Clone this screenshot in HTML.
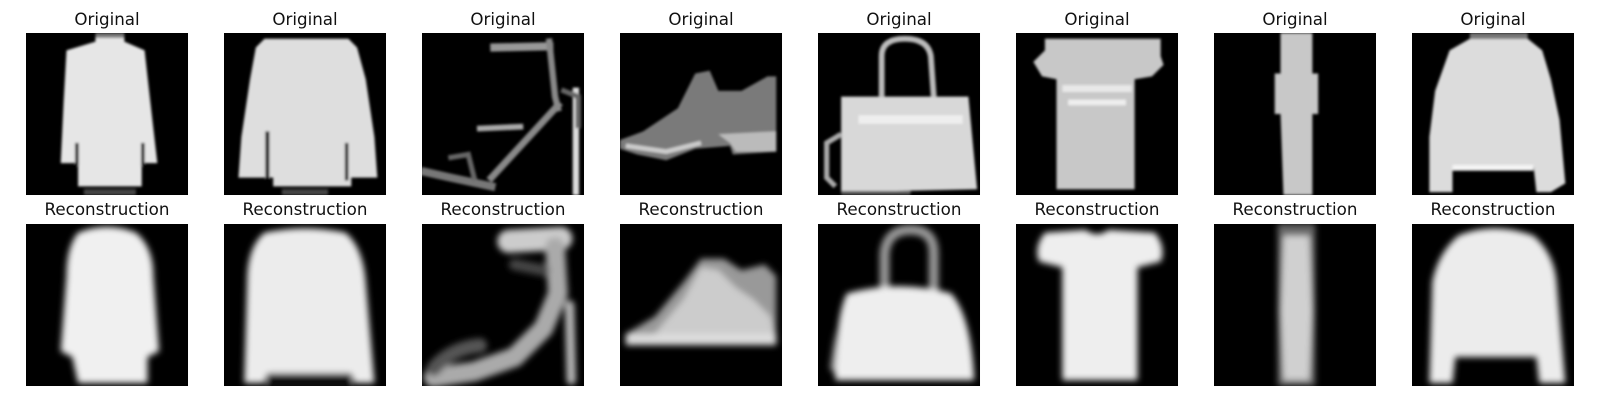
<!DOCTYPE html>
<html><head><meta charset="utf-8"><style>
html,body{margin:0;padding:0;background:#fff;}
svg{display:block;}
text{font-family:"DejaVu Sans","Liberation Sans",sans-serif;font-size:16.7px;fill:#111;}
</style></head><body>
<svg width="1600" height="400" viewBox="0 0 1600 400">
<defs>
<filter id="bl" x="-20%" y="-20%" width="140%" height="140%"><feGaussianBlur stdDeviation="0.55"/></filter>
<filter id="bs" x="-20%" y="-20%" width="140%" height="140%"><feGaussianBlur stdDeviation="0.25"/></filter>
<clipPath id="cp"><rect width="28" height="28"/></clipPath>
</defs>

<g text-anchor="middle">
<text x="107" y="25">Original</text>
<text x="305" y="25">Original</text>
<text x="503" y="25">Original</text>
<text x="701" y="25">Original</text>
<text x="899" y="25">Original</text>
<text x="1097" y="25">Original</text>
<text x="1295" y="25">Original</text>
<text x="1493" y="25">Original</text>
<text x="107" y="215">Reconstruction</text>
<text x="305" y="215">Reconstruction</text>
<text x="503" y="215">Reconstruction</text>
<text x="701" y="215">Reconstruction</text>
<text x="899" y="215">Reconstruction</text>
<text x="1097" y="215">Reconstruction</text>
<text x="1295" y="215">Reconstruction</text>
<text x="1493" y="215">Reconstruction</text>
</g>

<!-- 1 shirt -->
<g transform="translate(26,33) scale(5.786)">
<rect width="28" height="28" fill="#000"/>
<g clip-path="url(#cp)"><g filter="url(#bs)">
<polygon fill="#e6e6e6" points="12,0.8 17,0.8 17,1.5 20.5,3 21.5,12 22.7,22.5 20,22.5 20,26.5 9,26.5 9,22.5 6,22.5 6.5,12 7,3 12,1.5"/>
<polyline points="8.8,19 8.8,23" stroke="#000" stroke-width="0.6" fill="none"/>
<polyline points="20.2,19 20.2,23" stroke="#000" stroke-width="0.6" fill="none"/>
<rect x="10" y="27" width="9" height="1" fill="#444"/>
<rect x="12" y="0" width="5" height="0.8" fill="#777"/>
</g></g></g>
<g transform="translate(26,224) scale(5.786)">
<rect width="28" height="28" fill="#000"/>
<g clip-path="url(#cp)"><g filter="url(#bl)">
<path fill="#f0f0f0" d="M9,1.5 Q14,-0.5 19,1.5 Q22,4 22,9 L23,22 L21,23 L21,27.5 L9,27.5 L8,23 L6,22 L7,9 Q7,4 9,1.5Z"/>
</g></g></g>

<!-- 2 pullover -->
<g transform="translate(224,33) scale(5.786)">
<rect width="28" height="28" fill="#000"/>
<g clip-path="url(#cp)"><g filter="url(#bs)">
<polygon fill="#dedede" points="7,1 21.5,1 23,2.5 24.5,8 26,18 26.5,25 22,25 22,26.5 8.5,26.5 8.5,25 2.5,25 3,18 4.5,8 5.5,2.5"/>
<polyline points="7.5,17 7.5,25.5" stroke="#000" stroke-width="0.7" fill="none"/>
<polyline points="21.2,19 21.2,25.5" stroke="#000" stroke-width="0.6" fill="none"/>
<rect x="10" y="27" width="8" height="1" fill="#444"/>
</g></g></g>
<g transform="translate(224,224) scale(5.786)">
<rect width="28" height="28" fill="#000"/>
<g clip-path="url(#cp)"><g filter="url(#bl)">
<path fill="#ececec" d="M7,1.5 Q14,0 21,1.5 Q24,4 24.5,10 L26,27.5 L22.5,27.5 L22,26 L7.5,26 L7,27.5 L3.5,27.5 L4,10 Q4,4 7,1.5Z"/>
<rect x="7.5" y="25.8" width="14.5" height="3" fill="#111"/>
</g></g></g>

<!-- 3 sandal -->
<g transform="translate(422,33) scale(5.786)">
<rect width="28" height="28" fill="#000"/>
<g clip-path="url(#cp)"><g filter="url(#bs)" fill="none" stroke-linecap="square">
<polyline points="12.5,2.5 22,2.3" stroke="#999" stroke-width="1.4"/>
<polyline points="22,1.5 23,11 23.5,13" stroke="#888" stroke-width="1.1"/>
<polyline points="23.5,12.5 12,25" stroke="#888" stroke-width="1.2"/>
<polyline points="10,16.5 17,16.2" stroke="#aaa" stroke-width="1"/>
<polyline points="26.6,10 26.6,27.5" stroke="#ddd" stroke-width="1.1"/>
<polyline points="0.5,24 5,25 12,26.5" stroke="#777" stroke-width="1.4"/>
<polyline points="5,21.5 8,21 9,25" stroke="#666" stroke-width="0.9"/>
<polyline points="24.5,10 27,11 27,16" stroke="#666" stroke-width="0.9"/>
</g></g></g>
<g transform="translate(422,224) scale(5.786)">
<rect width="28" height="28" fill="#000"/>
<g clip-path="url(#cp)"><g filter="url(#bl)" fill="none" stroke-linecap="round">
<path d="M15,3 L24,2.5" stroke="#ccc" stroke-width="4"/>
<path d="M23,4 L23.5,12 L21,18 L16,23 L9,25.5 L2,26.5" stroke="#aaa" stroke-width="3.4"/>
<path d="M2,25 Q5,21.5 10,21" stroke="#555" stroke-width="2.5"/>
<path d="M25.5,14 L25.8,27" stroke="#bbb" stroke-width="1.6"/>
<path d="M16,7 L21,8" stroke="#444" stroke-width="2"/>
</g></g></g>

<!-- 4 sneaker -->
<g transform="translate(620,33) scale(5.786)">
<rect width="28" height="28" fill="#000"/>
<g clip-path="url(#cp)"><g filter="url(#bs)">
<polygon fill="#7a7a7a" points="0,18.5 4,17 10,13 13,7 15.5,6.5 17,10 21,10 25.5,7.5 27,7.5 27,20.5 19.5,21 19,19.5 13,20 8,22 3,21 0,20"/>
<polygon fill="#bbb" points="17,17.5 27,17 27,20.5 20,20.5 19,19"/>
<polyline points="1,19.5 8,20.5 14,19" stroke="#ccc" stroke-width="0.8" fill="none"/>
</g></g></g>
<g transform="translate(620,224) scale(5.786)">
<rect width="28" height="28" fill="#000"/>
<g clip-path="url(#cp)"><g filter="url(#bl)">
<polygon fill="#999" points="1,19 6,16 11,10 14,6 18,6 21,8 25,7 27,9 27,21 1,21"/>
<polygon fill="#ccc" points="6,19 11,13 14,7.5 17,8 20,11 23,13 26,16 27,20 5,20.5"/>
<rect x="1" y="19" width="26" height="1.8" fill="#ddd"/>
</g></g></g>

<!-- 5 bag -->
<g transform="translate(818,33) scale(5.786)">
<rect width="28" height="28" fill="#000"/>
<g clip-path="url(#cp)"><g filter="url(#bs)">
<path d="M11,11 L11,4 Q11,1 15,1 Q19,1 19.5,4 L20,11" stroke="#bbb" stroke-width="1" fill="none"/>
<polygon fill="#d8d8d8" points="4,11 26,11 27.5,27 4,27.5"/>
<rect x="7" y="14.2" width="18" height="1.5" fill="#eee"/>
<path d="M4,17.5 L1.5,19 L1.5,25 L3,26.5" stroke="#aaa" stroke-width="0.9" fill="none"/>
<rect x="4" y="27.3" width="12" height="0.7" fill="#555"/>
</g></g></g>
<g transform="translate(818,224) scale(5.786)">
<rect width="28" height="28" fill="#000"/>
<g clip-path="url(#cp)"><g filter="url(#bl)">
<path d="M11.5,13 L11.5,5 Q12,1 16,1 Q20,1 20,5 L20,13" stroke="#999" stroke-width="1.7" fill="none"/>
<path fill="#eee" d="M5,12 Q14,9.5 23,12 Q26.5,16 27,27 L3,27 Q3,16 5,12Z"/>
<path fill="#888" d="M3,18 L2,25 L3,26 Z"/>
</g></g></g>

<!-- 6 tshirt -->
<g transform="translate(1016,33) scale(5.786)">
<rect width="28" height="28" fill="#000"/>
<g clip-path="url(#cp)"><g filter="url(#bs)">
<polygon fill="#c8c8c8" points="5,1 25,1 25,4 25.5,5.5 23.5,7.5 20.5,8 20.5,27 7,27 7,8 4.5,7.5 3,5 5,3"/>
<rect x="8" y="9" width="12" height="1.2" fill="#e8e8e8"/>
<rect x="9" y="11.5" width="10" height="1" fill="#eee"/>
</g></g></g>
<g transform="translate(1016,224) scale(5.786)">
<rect width="28" height="28" fill="#000"/>
<g clip-path="url(#cp)"><g filter="url(#bl)">
<path fill="#eee" d="M5,1.5 L12,1 Q14,2.5 16,1 L24,1.5 Q26,4 25,6.5 L21,7.5 L21,27 L8,27 L8,7.5 L4,6.5 Q3,4 5,1.5Z"/>
</g></g></g>

<!-- 7 trouser -->
<g transform="translate(1214,33) scale(5.786)">
<rect width="28" height="28" fill="#000"/>
<g clip-path="url(#cp)"><g filter="url(#bs)">
<polygon fill="#c8c8c8" points="11.5,0 17,0 17,7 18,7 18,14 17,14 17,28 12,28 11.5,14 10.5,14 10.5,7 11.5,7"/>
</g></g></g>
<g transform="translate(1214,224) scale(5.786)">
<rect width="28" height="28" fill="#000"/>
<g clip-path="url(#cp)"><g filter="url(#bl)">
<polygon fill="#666" points="11,0 17.5,0 17.5,28 11,28"/>
<polygon fill="#d0d0d0" points="12,2 16.5,2 17,15 16.5,27 12,27 11.5,15"/>
</g></g></g>

<!-- 8 pullover -->
<g transform="translate(1412,33) scale(5.786)">
<rect width="28" height="28" fill="#000"/>
<g clip-path="url(#cp)"><g filter="url(#bs)">
<polygon fill="#dcdcdc" points="10,1 20,1 22.5,3 24,8 25.5,15 26.5,26 24,27.5 21.5,27.5 21,23 7,23 7,27.5 3,27.5 3,18 4,10 6.5,3"/>
<rect x="7" y="22.8" width="14" height="1" fill="#f4f4f4"/>
<rect x="10" y="0" width="10" height="1" fill="#777"/>
</g></g></g>
<g transform="translate(1412,224) scale(5.786)">
<rect width="28" height="28" fill="#000"/>
<g clip-path="url(#cp)"><g filter="url(#bl)">
<path fill="#ececec" d="M8,2 Q14,-0.5 21,2 Q24.5,5 25,10 L26.5,27.5 L22,27.5 L21.5,23 L7.5,23 L7,27.5 L3,27.5 L3.5,10 Q4.5,5 8,2Z"/>
</g></g></g>
</svg>
</body></html>
